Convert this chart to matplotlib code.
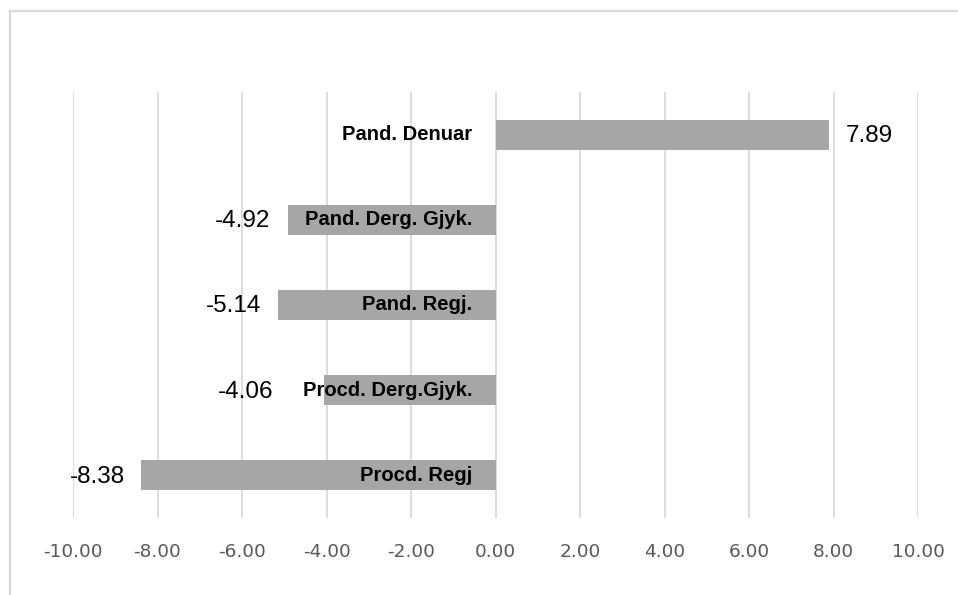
import matplotlib
matplotlib.use("Agg")
import matplotlib.pyplot as plt
from matplotlib.lines import Line2D

# data (top to bottom)
categories = ["Pand. Denuar", "Pand. Derg. Gjyk.", "Pand. Regj.", "Procd. Derg.Gjyk.", "Procd. Regj"]
values = [7.89, -4.92, -5.14, -4.06, -8.38]
ticks = [-10, -8, -6, -4, -2, 0, 2, 4, 6, 8, 10]

plt.rcParams["font.family"] = ["Liberation Sans", "DejaVu Sans"]

fig = plt.figure(figsize=(9.58, 5.95), dpi=100)
W, H = 958, 595
ax = fig.add_axes([73 / W, (H - 518) / H, (918 - 73) / W, (518 - 92) / H])

ypos = list(range(len(categories)))
ax.barh(ypos, values, height=0.35, color="#a6a6a6", zorder=2)
ax.set_ylim(len(categories) - 0.5, -0.5)
ax.set_xlim(-10, 10)
ax.set_xticks(ticks)
ax.set_xticklabels([f"{t:.2f}" for t in ticks], family="DejaVu Sans")
ax.set_yticks([])
ax.grid(axis="x", color="#d9d9d9", linewidth=1.3, zorder=0)
for s in ax.spines.values():
    s.set_visible(False)
ax.tick_params(axis="x", length=0, pad=18, labelsize=13.3, labelcolor="#595959")

px = 0.72  # pixels -> points at 100 dpi

# category names next to the zero line
for y, name in zip(ypos, categories):
    ax.annotate(name, (0, y), xytext=(-23 * px, 0), textcoords="offset points",
                ha="right", va="center", fontsize=14.5, fontweight="bold", color="black", zorder=3)

# value labels (Excel nudged a few of them)
label_shift = [17, -17, -17, -51, -16]
for y, v, dx in zip(ypos, values, label_shift):
    ax.annotate(f"{v:.2f}", (v, y), xytext=(dx * px, -1), textcoords="offset points",
                ha="left" if v > 0 else "right", va="center", fontsize=17.5, color="black", zorder=3)

# chart frame: only top and left edges show in the crop
fig.add_artist(Line2D([9.5 / W, 1], [1 - 11 / H, 1 - 11 / H], transform=fig.transFigure,
                      color="#d9d9d9", linewidth=1.6))
fig.add_artist(Line2D([9.5 / W, 9.5 / W], [0, 1 - 11 / H], transform=fig.transFigure,
                      color="#d9d9d9", linewidth=1.6))

fig.savefig("out.png", dpi=100)
